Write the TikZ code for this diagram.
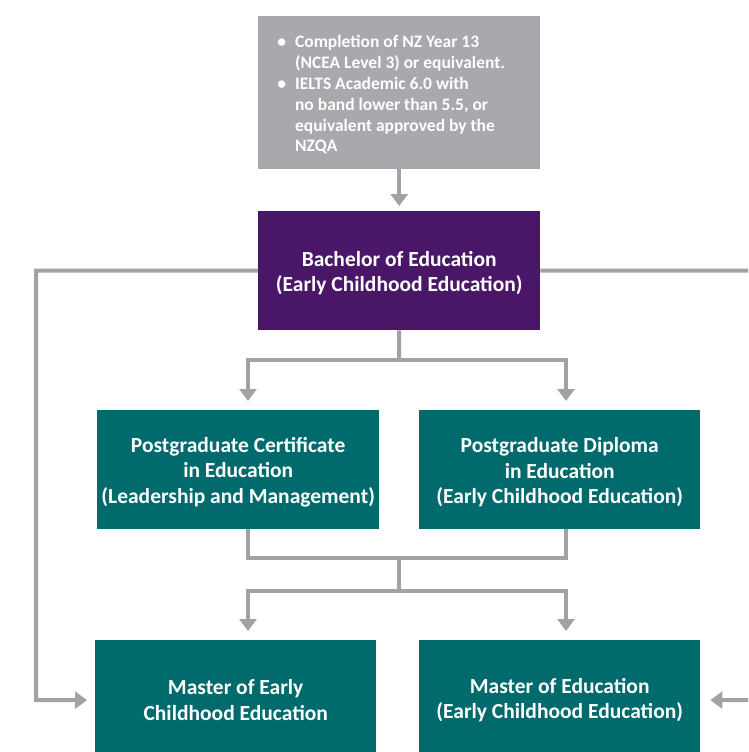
\documentclass[tikz,border=0pt]{standalone}
\usepackage{fontspec}
\setmainfont{Carlito}
\usetikzlibrary{arrows.meta}
\definecolor{boxgray}{HTML}{A7A9AC}
\definecolor{boxpurple}{HTML}{4A1768}
\definecolor{boxteal}{HTML}{006A6C}
\definecolor{linegray}{HTML}{A0A2A5}
\newcommand{\tstrut}{\rule{0pt}{20pt}}
\tikzset{
  x=1pt,y=-1pt,
  box/.style={rectangle, inner sep=0pt, minimum width=282pt, minimum height=120pt,
    text=white, font=\bfseries\fontsize{21.5}{25.5}\selectfont, align=center},
  conn/.style={draw=linegray, line width=4pt},
  arr/.style={conn, -{Triangle[width=17pt,length=12pt]}, shorten >=9pt},
}
\begin{document}
\begin{tikzpicture}
\useasboundingbox (0,0) rectangle (748,752);
\clip (0,0) rectangle (748,752);
% nodes
\node[rectangle, fill=boxgray, minimum width=282pt, minimum height=153pt, inner sep=0pt,
      text=white, font=\bfseries\fontsize{17.5}{20.8}\selectfont, anchor=north west]
  (req) at (258,16) {%
  \begin{tabular}{@{}l@{\hspace{9pt}}l@{}}
  \noalign{\vspace{6pt}}
  \textbullet & Completion of NZ Year 13\\
   & (NCEA Level 3) or equivalent.\\
  \textbullet & IELTS Academic 6.0 with\\
   & no band lower than 5.5, or\\
   & equivalent approved by the\\
   & NZQA
  \end{tabular}\kern16pt};
\node[box, fill=boxpurple, minimum height=119pt, anchor=north west] (bed) at (258,211)
  {\tstrut Bachelor of Education\\(Early Childhood Education)};
\node[box, fill=boxteal, minimum height=119pt, anchor=north west] (pgc) at (97,410)
  {\tstrut Postgraduate Certificate\\in Education\\(Leadership and Management)};
\node[box, fill=boxteal, minimum height=119pt, minimum width=281pt, anchor=north west] (pgd) at (419,410)
  {\tstrut Postgraduate Diploma\\in Education\\(Early Childhood Education)};
\node[box, fill=boxteal, minimum width=281pt, anchor=north west] (mec) at (95,640)
  {Master of Early\\Childhood Education};
\node[box, fill=boxteal, minimum width=281pt, anchor=north west] (med) at (419,640)
  {Master of Education\\(Early Childhood Education)};
% coordinates
\coordinate (jb) at (399,360);
\coordinate (pgcin) at (248,410);
\coordinate (pgdin) at (566,410);
\coordinate (pgcout) at (248,529);
\coordinate (pgdout) at (566,529);
\coordinate (jm) at (399,558);
\coordinate (jm2) at (399,591);
\coordinate (mecin) at (248,640);
\coordinate (medin) at (566,640);
\coordinate (lc) at (36,700);
\coordinate (redge) at (760,270.5);
\coordinate (redge2) at (760,700);
% connectors
\draw[arr, shorten >=5pt] (req.south) -- (bed.north);
\draw[conn] (bed.south) -- (jb);
\draw[arr] (jb) -| (pgcin);
\draw[arr] (jb) -| (pgdin);
\draw[conn] (pgcout) |- (jm);
\draw[conn] (pgdout) |- (jm);
\draw[conn] (jm) -- (jm2);
\draw[arr] (jm2) -| (mecin);
\draw[arr] (jm2) -| (medin);
\draw[arr, shorten >=8pt] (bed.west) -| (lc) -- (mec.west);
\draw[conn] (bed.east) -- (redge);
\draw[arr, shorten >=10pt] (redge2) -- (med.east);
\end{tikzpicture}
\end{document}
